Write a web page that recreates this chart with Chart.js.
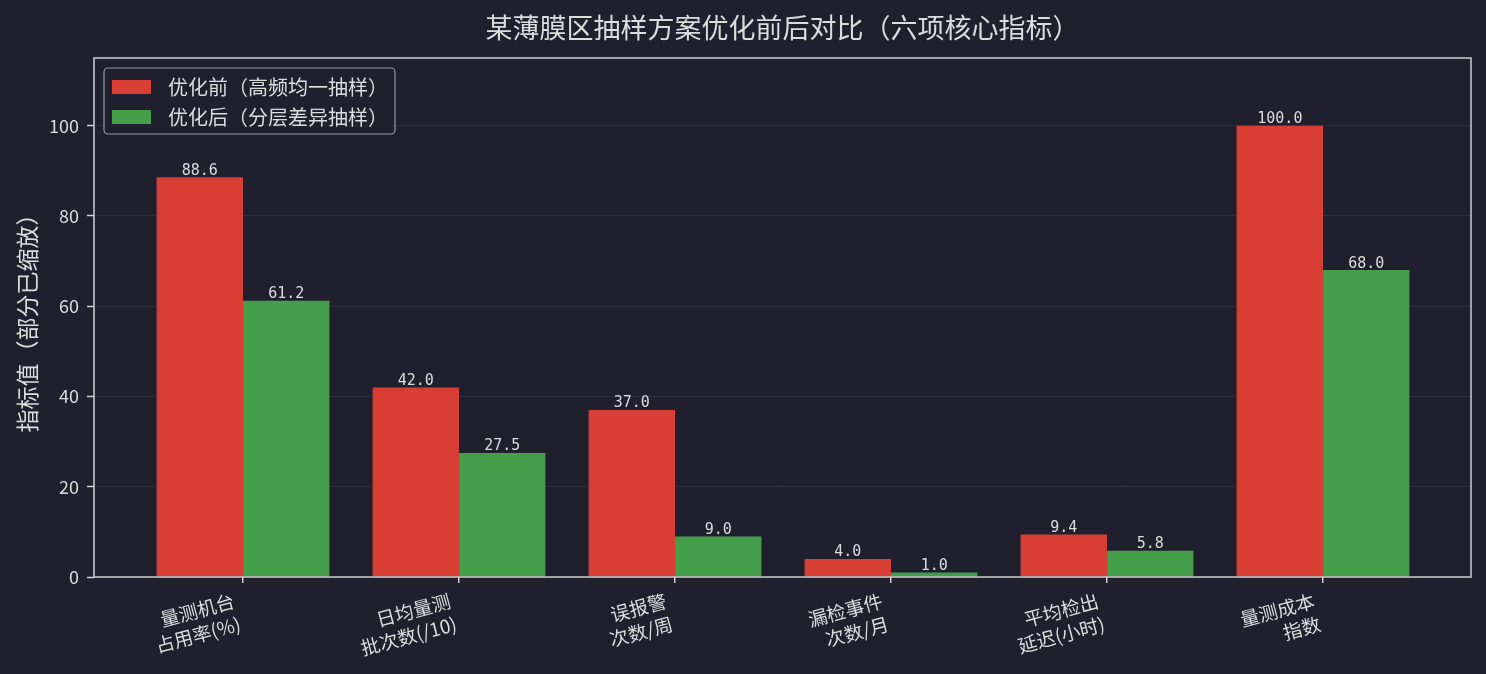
<!DOCTYPE html>
<html>
<head>
<meta charset="utf-8">
<script src="https://cdn.jsdelivr.net/npm/chart.js@4.4.1/dist/chart.umd.min.js"></script>
<style>
  html, body { margin: 0; padding: 0; background: #1f1f2e; }
  #wrap { width: 1486px; height: 674px; }
</style>
</head>
<body>
<div id="wrap"><canvas id="c"></canvas></div>
<script>
// 图表数据
const categories = [
  ['量测机台', '占用率(%)'],
  ['日均量测', '批次数(/10)'],
  ['误报警', '次数/周'],
  ['漏检事件', '次数/月'],
  ['平均检出', '延迟(小时)'],
  ['量测成本', '指数']
];
const beforeValues = [88.6, 42.0, 37.0, 4.0, 9.4, 100.0];
const afterValues = [61.2, 27.5, 9.0, 1.0, 5.8, 68.0];
const seriesNames = ['优化前（高频均一抽样）', '优化后（分层差异抽样）'];
const yTicks = [0, 20, 40, 60, 80, 100];

const BG = '#1f1f2e';
const TEXT = '#dcdcdc';
const RED = '#d93e35';
const GREEN = '#459e4a';
const CJK = '"Noto Sans CJK SC", "Noto Sans", sans-serif';

// 背景、边框、标题、图例、数值标签
const decor = {
  id: 'decor',
  beforeDraw(chart) {
    const ctx = chart.ctx;
    ctx.save();
    ctx.fillStyle = BG;
    ctx.fillRect(0, 0, chart.width, chart.height);
    ctx.restore();
  },
  afterDatasetsDraw(chart) {
    const ctx = chart.ctx;
    const a = chart.chartArea;
    ctx.save();
    // 数值标签
    ctx.font = '15px "DejaVu Sans Mono", monospace';
    ctx.fillStyle = TEXT;
    ctx.textAlign = 'center';
    ctx.textBaseline = 'bottom';
    chart.data.datasets.forEach((ds, di) => {
      chart.getDatasetMeta(di).data.forEach((bar, i) => {
        ctx.fillText(ds.data[i].y.toFixed(1), bar.x, bar.y + 1);
      });
    });
    // 边框
    ctx.strokeStyle = '#cfcfcf';
    ctx.lineWidth = 1.5;
    ctx.strokeRect(a.left, a.top, a.right - a.left, a.bottom - a.top);
    // 标题
    ctx.font = '27px ' + CJK;
    ctx.textBaseline = 'middle';
    ctx.fillStyle = TEXT;
    ctx.fillText('某薄膜区抽样方案优化前后对比（六项核心指标）', (a.left + a.right) / 2, 28);
    // 图例
    const lx = a.left + 10, ly = a.top + 10, lw = 291, lh = 66;
    ctx.fillStyle = 'rgba(31,31,46,0.8)';
    ctx.strokeStyle = '#9a9aa2';
    ctx.lineWidth = 1.2;
    ctx.beginPath();
    ctx.roundRect(lx, ly, lw, lh, 4);
    ctx.fill();
    ctx.stroke();
    ctx.font = '20px ' + CJK;
    ctx.textAlign = 'left';
    chart.data.datasets.forEach((ds, di) => {
      const yy = ly + 19 + di * 30;
      ctx.fillStyle = ds.backgroundColor;
      ctx.fillRect(lx + 8, yy - 7, 39, 14);
      ctx.fillStyle = TEXT;
      ctx.fillText(ds.label, lx + 64, yy);
    });
    ctx.restore();
  }
};

new Chart(document.getElementById('c'), {
  type: 'bar',
  data: {
    datasets: [
      { label: seriesNames[0], data: beforeValues.map((v, i) => ({ x: i, y: v })), backgroundColor: RED },
      { label: seriesNames[1], data: afterValues.map((v, i) => ({ x: i, y: v })), backgroundColor: GREEN }
    ]
  },
  options: {
    responsive: true,
    maintainAspectRatio: false,
    animation: false,
    devicePixelRatio: 1,
    categoryPercentage: 0.8,
    barPercentage: 1.0,
    layout: { padding: { top: 58, right: 15, left: 0, bottom: 0 } },
    plugins: {
      legend: { display: false },
      title: { display: false },
      tooltip: { enabled: false }
    },
    scales: {
      x: {
        type: 'linear',
        offset: false,
        min: -0.69,
        max: 5.685,
        afterBuildTicks: s => { s.ticks = categories.map((_, i) => ({ value: i })); },
        afterFit: s => { s.height = 97; },
        grid: { display: true, offset: false, drawOnChartArea: false, drawTicks: true, tickLength: 6, color: '#cfcfcf', lineWidth: 1.5 },
        border: { display: false },
        ticks: {
          color: TEXT,
          font: { family: CJK, size: 19, lineHeight: 1.25 },
          minRotation: 15,
          maxRotation: 15,
          padding: 6,
          labelOffset: -9,
          autoSkip: false,
          callback: v => categories[v]
        }
      },
      y: {
        min: 0,
        max: 115,
        afterBuildTicks: s => { s.ticks = yTicks.map(v => ({ value: v })); },
        afterFit: s => { s.width = 94; },
        grid: { color: 'rgba(255,255,255,0.07)', lineWidth: 1, tickLength: 7, tickColor: '#cfcfcf', tickWidth: 1.5 },
        border: { display: false },
        ticks: { color: TEXT, font: { family: CJK, size: 18 }, padding: 8 },
        title: {
          display: true,
          text: '指标值（部分已缩放）',
          color: TEXT,
          font: { family: CJK, size: 23 },
          padding: { top: 13, bottom: 0 }
        }
      }
    }
  },
  plugins: [decor]
});
</script>
</body>
</html>
